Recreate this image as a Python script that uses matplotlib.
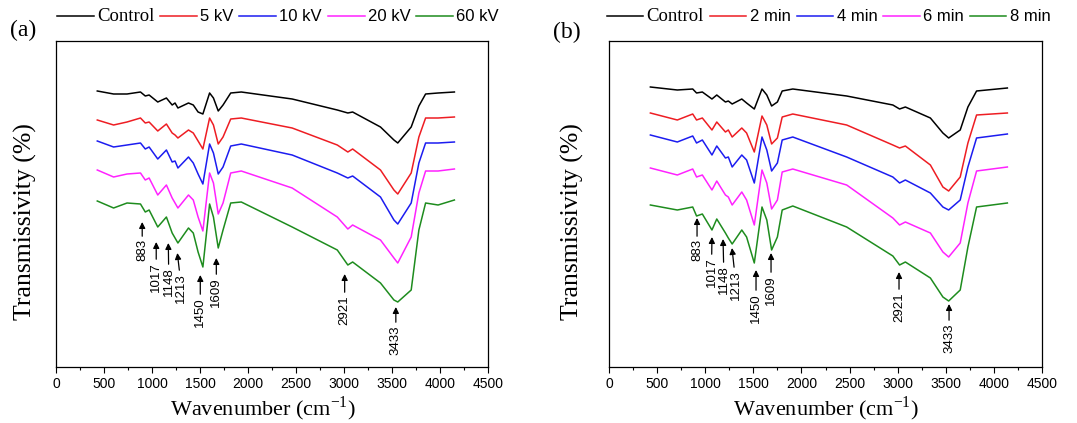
import matplotlib
matplotlib.use("Agg")
import matplotlib.pyplot as plt
from matplotlib.ticker import MultipleLocator

plt.rcParams['font.family'] = ['Liberation Sans', 'DejaVu Sans']
plt.rcParams['mathtext.fontset'] = 'custom'
plt.rcParams['mathtext.rm'] = 'Liberation Serif'

# ---- data (wavenumber as drawn against the axis, transmissivity in a.u.) ----
wn_a = [430, 600, 740, 880, 930, 970, 1060, 1150, 1210, 1240, 1270, 1380, 1430, 1480, 1530,
        1600, 1640, 1690, 1740, 1820, 1930, 2460, 2930, 3040, 3090, 3380, 3520, 3560, 3700,
        3780, 3850, 3980, 4150]
control_a = [276, 273, 273, 275, 271, 272, 265, 269, 262, 264, 259, 264, 262, 255, 253, 274, 269,
             256, 262, 274, 275, 268, 257, 254, 255, 240, 227, 224, 240, 261, 273, 274, 275]
kv5 = [247, 242, 245, 249, 244, 245, 236, 243, 234, 232, 229, 237, 234, 226, 218, 249, 242,
       223, 230, 248, 249, 239, 222, 215, 218, 197, 177, 173, 194, 230, 249, 249, 250]
kv10 = [226, 220, 222, 224, 218, 220, 208, 217, 205, 206, 199, 210, 204, 193, 183, 223, 214,
        193, 200, 221, 223, 212, 194, 189, 191, 170, 147, 143, 164, 204, 224, 224, 225]
kv20 = [197, 190, 193, 194, 187, 189, 172, 182, 169, 164, 159, 172, 167, 150, 136, 194, 184,
        153, 164, 194, 196, 179, 150, 138, 142, 127, 109, 104, 130, 174, 196, 196, 198]
kv60 = [166, 159, 164, 163, 155, 157, 140, 150, 134, 129, 124, 139, 134, 115, 100, 163, 150,
        119, 137, 164, 165, 140, 117, 102, 105, 84, 67, 65, 77, 137, 164, 162, 167]

wn_b = [430, 710, 870, 910, 970, 1070, 1120, 1210, 1240, 1280, 1380, 1430, 1510, 1590, 1640,
        1690, 1750, 1800, 1910, 2470, 2950, 3020, 3080, 3340, 3470, 3530, 3650, 3730, 3820, 4140]
control_b = [280, 277, 278, 274, 275, 268, 272, 265, 266, 263, 268, 264, 258, 278, 272,
             261, 265, 276, 278, 271, 262, 258, 260, 249, 234, 229, 237, 260, 276, 279]
min2 = [254, 247, 253, 247, 249, 237, 245, 235, 237, 230, 239, 234, 215, 251, 242,
        223, 229, 250, 253, 242, 222, 219, 221, 202, 180, 176, 190, 224, 252, 254]
min4 = [232, 225, 231, 224, 227, 212, 221, 209, 210, 200, 212, 207, 184, 230, 217,
        196, 204, 227, 230, 210, 190, 184, 187, 174, 160, 157, 167, 200, 229, 233]
min6 = [199, 192, 198, 190, 192, 177, 186, 172, 170, 162, 175, 167, 142, 197, 184,
        158, 167, 195, 198, 182, 149, 142, 145, 134, 115, 110, 124, 164, 196, 200]
min8 = [162, 157, 160, 151, 153, 137, 148, 134, 129, 123, 137, 130, 104, 160, 147,
        117, 130, 157, 161, 140, 111, 102, 105, 89, 70, 66, 77, 120, 160, 164]

labels_a = ['Control', '5 kV', '10 kV', '20 kV', '60 kV']
labels_b = ['Control', '2 min', '4 min', '6 min', '8 min']

peak_labels = ['883', '1017', '1148', '1213', '1450', '1609', '2921', '3433']
peak_x_a = [898, 1044, 1170, 1264, 1503, 1670, 3007, 3540]
peak_x_b = [915, 1070, 1185, 1278, 1528, 1684, 3014, 3534]

# ---- layout ----
colors = ['black', '#ee1d23', '#1c1cf0', '#ff22ff', '#1e8c1e']
tip_a = [145, 125, 124, 114, 92, 109, 93, 60]
txt_a = [128, 105, 100, 94, 70, 90, 72, 42]
txtx_a = [898, 1044, 1175, 1306, 1503, 1670, 3007, 3540]
tip_b = [149, 130, 128, 119, 97, 114, 95, 63]
txt_b = [128, 110, 102, 97, 74, 92, 75, 44]
txtx_b = [915, 1065, 1195, 1320, 1528, 1684, 3014, 3534]

W, H = 1077, 423
fig = plt.figure(figsize=(W / 100, H / 100), dpi=100)
ax_a = fig.add_axes([56 / W, 1 - 367 / H, 432 / W, 326 / H])
ax_b = fig.add_axes([609 / W, 1 - 367 / H, 433 / W, 326 / H])

serif = 'Liberation Serif'


def draw_panel(ax, wn, series, labels, px, tips, txts, txtx, xl_x, yl_x, leg_x):
    for ys, lab, c in zip(series, labels, colors):
        ax.plot(wn, ys, color=c, lw=1.1, label=lab)
    for lab, x, ty, tx, ty2 in zip(peak_labels, px, tips, txtx, txts):
        ax.annotate(lab, xy=(x, ty), xytext=(tx, ty2), rotation=90, ha='center', va='top',
                    fontsize=9.5,
                    arrowprops=dict(arrowstyle='-|>', color='black', lw=0.9,
                                    mutation_scale=9, shrinkA=0, shrinkB=0))
    ax.set_xlim(0, 4500)
    ax.set_ylim(0, 326)
    ax.xaxis.set_major_locator(MultipleLocator(500))
    ax.xaxis.set_minor_locator(MultipleLocator(250))
    ax.tick_params(axis='x', which='major', direction='out', length=4, width=0.8,
                   labelsize=10, pad=3)
    ax.tick_params(axis='x', which='minor', direction='out', length=2.5, width=0.8)
    ax.set_yticks([])
    for s in ax.spines.values():
        s.set_linewidth(0.9)
    ax.set_xlabel('Wavenumber (cm$^{\\mathregular{-1}}$)', fontsize=16, family=serif)
    ax.xaxis.set_label_coords(xl_x, -0.085)
    ax.set_ylabel('Transmissivity (%)', fontsize=18.5, family=serif)
    ax.yaxis.set_label_coords(yl_x, 0.445)
    leg = ax.legend(loc='center', bbox_to_anchor=(leg_x, 1.074), ncol=5, frameon=False,
                    handlelength=2.2, handletextpad=0.2, columnspacing=0.35,
                    fontsize=12, borderaxespad=0)
    t0 = leg.get_texts()[0]
    t0.set_family(serif)
    t0.set_fontsize(13.5)


draw_panel(ax_a, wn_a, [control_a, kv5, kv10, kv20, kv60], labels_a, peak_x_a,
           tip_a, txt_a, txtx_a, 0.48, -0.045, 0.514)
draw_panel(ax_b, wn_b, [control_b, min2, min4, min6, min8], labels_b, peak_x_b,
           tip_b, txt_b, txtx_b, 0.50, -0.058, 0.507)

fig.text(10 / W, 1 - 30 / H, '(a)', fontsize=17, family=serif, va='center', ha='left')
fig.text(553 / W, 1 - 32 / H, '(b)', fontsize=17, family=serif, va='center', ha='left')

fig.savefig('out.png', dpi=100)
